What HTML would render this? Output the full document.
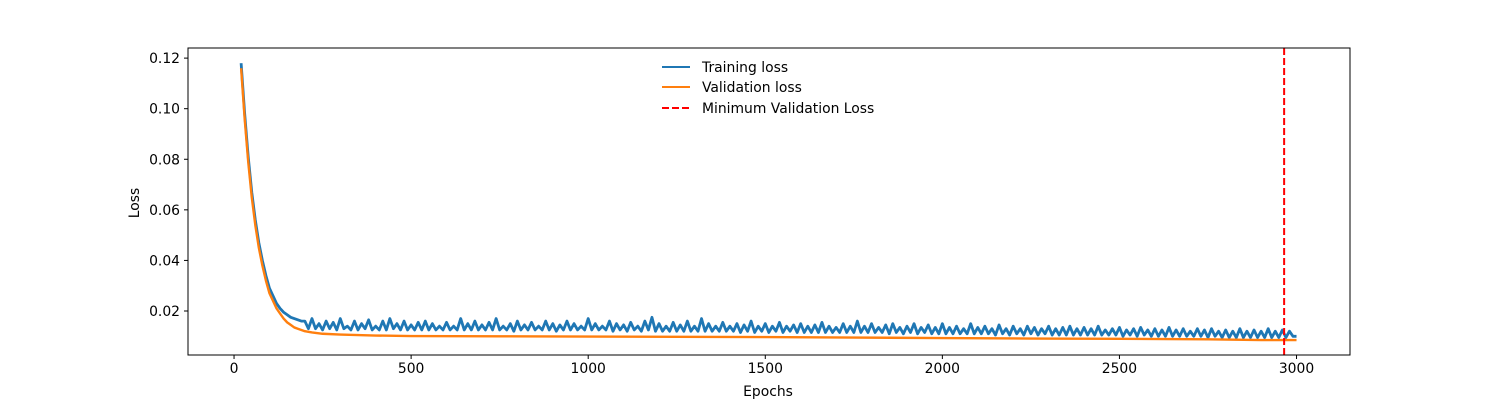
<!DOCTYPE html>
<html><head><meta charset="utf-8">
<style>
body{margin:0;background:#fff;}
svg{display:block;font-family:"DejaVu Sans","Liberation Sans",sans-serif;}
</style></head>
<body>
<svg id="chart" width="1500" height="400">
<rect width="1500" height="400" fill="#fff"/>
<g id="plot"></g>
<g id="axes"></g>
<text x="768" y="396" text-anchor="middle" font-size="13.9">Epochs</text>
<text transform="translate(139,203) rotate(-90)" text-anchor="middle" font-size="13.9">Loss</text>
<g>
<g><line x1="662" y1="67" x2="690" y2="67" stroke="#1f77b4" stroke-width="2"/><text x="702" y="72" font-size="13.9">Training loss</text></g>
<g><line x1="662" y1="87" x2="690" y2="87" stroke="#ff7f0e" stroke-width="2"/><text x="702" y="92" font-size="13.9">Validation loss</text></g>
<g><line x1="662" y1="108" x2="690" y2="108" stroke="#ff0000" stroke-width="2" stroke-dasharray="7,3"/><text x="702" y="113" font-size="13.9">Minimum Validation Loss</text></g>
</g>
</svg>
<script>
const trainEpochsEarly=[20,30,40,50,60,70,80,90,100,110,120,130,140,150,160,170,180,190];
const trainEarly=[118,98,81,67,56,47,40,34,29,26,23,21,19.5,18.5,17.5,17,16.5,16];
const trainStart=200, trainStep=10;
const trainLate=[
16,13,17,13,15,12.5,16,13,15.5,12.5,17,13,14,12.5,16,12.5,15,13,16.5,12.5,
14,12.5,16,12.5,17,13,15,12.5,16,12.5,14.5,12.5,15.5,12.5,16,12.5,15,12.5,14,12.5,
15.5,12.5,14,12.5,17,12.5,15,12.5,16,12.5,14.5,12.5,15.5,12.5,17,12.5,14,12.5,15,12,
16,12.5,14.5,12.5,15.5,12.5,14,12.5,16,12.5,15,12,14.5,12.5,16,12.5,15,12.5,14,12.5,
17,12.5,15,12.5,14,12.5,16,12,15,12.5,14.5,12,15.5,12.5,14,12,16,12.5,17.5,12,
15,12,14,12,15.5,12,14.5,12,16,12,14,12,17,12,15,12,14,12,15.5,12,
14,12,15,11.5,14.5,12,16,11.5,14,12,15,11.5,14,12,15.5,11.5,14,12,14.5,11.5,
15,11.5,14,11.5,14.5,11.5,15.5,11.5,14,11.5,13.5,11.5,15,11.5,14,11.5,16,11.5,14,11.5,
15,11.5,13.5,11.5,14.5,11,15,11.5,13.5,11,14,11.5,15,11,13.5,11.5,14.5,11,13.5,11,
15,11,13.5,11,14,11,13,11,15,11,13.5,11,14,11,13,10.5,14.5,11,13,10.5,
14,11,13,10.5,14,11,13.5,10.5,13,11,14,10.5,13,10.5,13.5,10.5,14,10.5,13,10.5,
13.5,10.5,13,10.5,14,10.5,12.5,10.5,13,10.5,13.5,10,12.5,10.5,13,10,13.5,10.5,12.5,10,
13,10,12.5,10,13.5,10,12.5,10,13,10,12,10,13,10,12.5,9.5,13,10,12,9.5,
12.5,9.5,12,9.5,13,9.5,12,9.5,12.5,9.5,12,9.5,13,9.5,12,9.5,12.5,9.5,12,10,
10];
const valEpochs=[20,30,40,50,60,70,80,90,100,110,120,130,140,150,160,170,180,190,200,220,250,300,400,500,750,1000,1250,1500,1750,2000,2250,2500,2750,2900,3000];
const valLoss=[116,96,79,65,54,45,38,32,27,24,21,19,17,15.5,14.5,13.5,13,12.5,12,11.5,11,10.7,10.3,10.1,10,9.9,9.8,9.7,9.5,9.3,9.1,9,8.8,8.5,8.5];
const minValEpoch=2965;
const xTicks=[0,500,1000,1500,2000,2500,3000];
const yTicks=[0.02,0.04,0.06,0.08,0.10,0.12];
const yTickLabels=["0.02","0.04","0.06","0.08","0.10","0.12"];

const L=188,R=1350,T=48,B=355;
const xMin=-130,xMax=3151,yMin=0.0026,yMax=0.1240;
const xs=v=>L+(v-xMin)/(xMax-xMin)*(R-L);
const ys=v=>B-(v-yMin)/(yMax-yMin)*(B-T);
const NS="http://www.w3.org/2000/svg";
const plot=document.getElementById('plot'),axes=document.getElementById('axes');
function mk(tag,attrs,parent){const e=document.createElementNS(NS,tag);for(const k in attrs)e.setAttribute(k,attrs[k]);parent.appendChild(e);return e;}

let tp=[];
trainEpochsEarly.forEach((e,i)=>tp.push(xs(e).toFixed(2)+","+ys(trainEarly[i]/1000).toFixed(2)));
trainLate.forEach((v,i)=>tp.push(xs(trainStart+i*trainStep).toFixed(2)+","+ys(v/1000).toFixed(2)));
const tl=mk('polyline',{points:tp.join(' '),fill:'none',stroke:'#1f77b4','stroke-width':2.8,'stroke-linejoin':'round'},plot);



const vp=valEpochs.map((e,i)=>xs(e).toFixed(2)+","+ys(valLoss[i]/1000).toFixed(2));
const vl=mk('polyline',{points:vp.join(' '),fill:'none',stroke:'#ff7f0e','stroke-width':2.4,'stroke-linejoin':'round'},plot);



const ml=mk('line',{x1:xs(minValEpoch),x2:xs(minValEpoch),y1:T,y2:B,stroke:'#ff0000','stroke-width':2,'stroke-dasharray':'7,3'},plot);



const fr=mk('rect',{x:L,y:T,width:R-L,height:B-T,fill:'none',stroke:'#000','stroke-width':1},axes);



xTicks.forEach(t=>{
  const x=xs(t);
  const tk=mk('line',{x1:x,x2:x,y1:B,y2:B+4,stroke:'#000'},axes);
  
  
  const lb=mk('text',{x:x,y:B+18,'text-anchor':'middle','font-size':13.9},axes);
  lb.textContent=String(t);
  
  
});
yTicks.forEach((t,i)=>{
  const y=ys(t);
  const tk=mk('line',{x1:L-4,x2:L,y1:y,y2:y,stroke:'#000'},axes);
  
  
  const lb=mk('text',{x:L-8,y:y+5,'text-anchor':'end','font-size':13.9},axes);
  lb.textContent=yTickLabels[i];
  
  
});
</script>
</body></html>
